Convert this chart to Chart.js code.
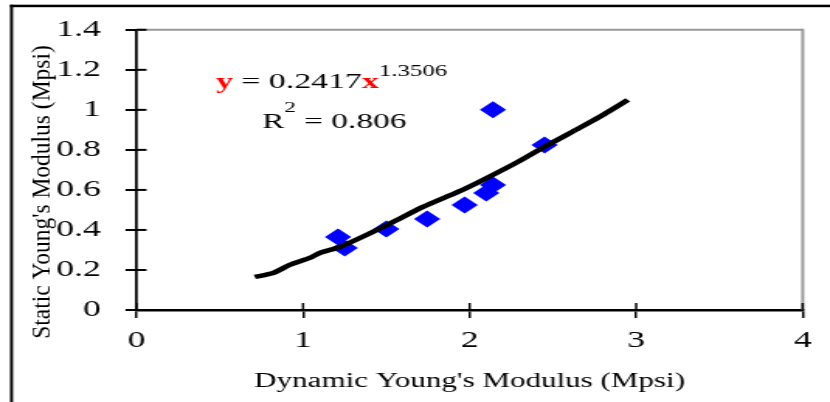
<!DOCTYPE html>
<html>
<head>
<meta charset="utf-8">
<script src="https://cdn.jsdelivr.net/npm/chart.js@4"></script>
<style>
  html, body { margin: 0; padding: 0; background: #fff; overflow: hidden; }
  #wrap { width: 830px; height: 402px; overflow: hidden; }
  #chart { display: block; transform-origin: 0 0; }
</style>
</head>
<body>
<div id="wrap"><canvas id="chart"></canvas></div>
<script>
// measured points (Mpsi)
const dynamicModulus = [1.21, 1.25, 1.50, 1.745, 1.97, 2.10, 2.14, 2.14, 2.45];
const staticModulus  = [0.365, 0.31, 0.405, 0.455, 0.525, 0.585, 0.625, 1.00, 0.825];

// power-law trend line as drawn in the figure
const trendX = [0.71, 0.82, 0.92, 1.04, 1.10, 1.22, 1.38, 1.54, 1.72, 1.93, 2.08, 2.29, 2.47, 2.66, 2.78, 2.95];
const trendY = [0.165, 0.185, 0.225, 0.26, 0.285, 0.315, 0.375, 0.44, 0.515, 0.59, 0.65, 0.74, 0.825, 0.91, 0.965, 1.05];

const xTickLabels = ['0', '1', '2', '3', '4'];
const yTickLabels = ['0', '0.2', '0.4', '0.6', '0.8', '1', '1.2', '1.4'];

const FONT = 'Liberation Serif';

// the original figure is stretched sideways; draw narrow and scale the canvas
const SX = 1.55;
const W = Math.round(830 / SX);
const H = 402;
const K = 830 / W;
const sx = (px) => px / K;

const canvas = document.getElementById('chart');
canvas.width = W;
canvas.height = H;
canvas.style.width = W + 'px';
canvas.style.height = H + 'px';
canvas.style.transform = 'scaleX(' + K + ')';

const framePlugin = {
  id: 'frame',
  beforeDatasetsDraw(chart) {
    const { ctx, chartArea: a } = chart;
    ctx.save();
    ctx.strokeStyle = '#999';
    ctx.lineWidth = 2;
    ctx.beginPath();
    ctx.moveTo(a.left, a.top);
    ctx.lineTo(a.right, a.top);
    ctx.stroke();
    ctx.lineWidth = 3 / K;
    ctx.beginPath();
    ctx.moveTo(a.right, a.top - 1);
    ctx.lineTo(a.right, a.bottom);
    ctx.stroke();
    ctx.restore();
  },
  afterDraw(chart) {
    const { ctx, chartArea: a, scales: { x, y } } = chart;
    ctx.save();
    // inner half of the cross ticks
    ctx.strokeStyle = '#000';
    ctx.lineWidth = 2.3 / K;
    x.ticks.forEach(t => {
      const px = x.getPixelForValue(t.value);
      ctx.beginPath();
      ctx.moveTo(px, a.bottom);
      ctx.lineTo(px, a.bottom - 7);
      ctx.stroke();
    });
    ctx.lineWidth = 2;
    y.ticks.forEach(t => {
      const py = y.getPixelForValue(t.value);
      ctx.beginPath();
      ctx.moveTo(a.left, py);
      ctx.lineTo(a.left + sx(10), py);
      ctx.stroke();
    });

    // outer black frame (top and left)
    ctx.fillStyle = '#000';
    ctx.fillRect(sx(10), 4.7, W, 2.5);
    ctx.fillRect(sx(10), 4.7, sx(3), H);

    // y axis title
    ctx.save();
    ctx.translate(sx(42), 192);
    ctx.scale(1.15 / K, 1);
    ctx.rotate(-Math.PI / 2);
    ctx.font = '23.5px ' + FONT;
    ctx.fillStyle = '#000';
    ctx.textAlign = 'center';
    ctx.textBaseline = 'middle';
    ctx.fillText("Static Young's Modulus (Mpsi)", 0, 0);
    ctx.restore();

    // regression equation
    ctx.textAlign = 'left';
    ctx.textBaseline = 'alphabetic';
    let cx = sx(216);
    let base = 88;
    const piece = (text, font, color, dy) => {
      ctx.font = font;
      ctx.fillStyle = color;
      ctx.fillText(text, cx, base + dy);
      cx += ctx.measureText(text).width;
    };
    piece('y', 'bold 21.8px ' + FONT, '#ff0000', 0);
    piece(' = 0.2417', '21.8px ' + FONT, '#000', 0);
    piece('x', 'bold 21.8px ' + FONT, '#ff0000', 0);
    piece('1.3506', '16px ' + FONT, '#000', -12);

    cx = sx(262);
    base = 128;
    piece('R', '21.5px ' + FONT, '#000', 0);
    piece('2', '15px ' + FONT, '#000', -16);
    piece(' = 0.806', '21.5px ' + FONT, '#000', 0);
    ctx.restore();
  }
};

new Chart(canvas, {
  type: 'scatter',
  data: {
    datasets: [
      {
        label: 'Power trend',
        data: trendX.map((v, i) => ({ x: v, y: trendY[i] })),
        showLine: true,
        borderColor: '#000',
        borderWidth: 4.5,
        pointRadius: 0,
        tension: 0.2,
        fill: false,
      },
      {
        label: 'Data',
        data: dynamicModulus.map((v, i) => ({ x: v, y: staticModulus[i] })),
        pointStyle: 'rectRot',
        pointRadius: 8.5,
        pointHoverRadius: 8.5,
        backgroundColor: '#0000ff',
        borderColor: '#0000ff',
        borderWidth: 0,
      },
    ],
  },
  options: {
    responsive: false,
    animation: false,
    devicePixelRatio: 1,
    layout: { padding: { top: 29.5, right: W - sx(802.7), left: 0, bottom: 0 } },
    plugins: {
      legend: { display: false },
      tooltip: { enabled: false },
    },
    scales: {
      x: {
        type: 'linear',
        min: 0,
        max: 4,
        ticks: {
          stepSize: 1,
          color: '#000',
          font: { family: FONT, size: 23 },
          padding: 9,
          maxRotation: 0,
          callback: (v, i) => xTickLabels[i],
        },
        grid: { drawOnChartArea: false, color: '#000', lineWidth: 2.3 / K, tickLength: 8 },
        border: { color: '#000', width: 2.5 },
        title: {
          display: true,
          text: "Dynamic Young's Modulus (Mpsi)",
          color: '#000',
          font: { family: FONT, size: 20 },
          padding: { top: 0, bottom: 8 },
        },
        afterFit: (s) => { s.height = 92; },
      },
      y: {
        min: 0,
        max: 1.4,
        ticks: {
          stepSize: 0.2,
          color: '#000',
          font: { family: FONT, size: 23 },
          padding: 16,
          callback: (v, i) => yTickLabels[i],
        },
        grid: { drawOnChartArea: false, color: '#000', lineWidth: 2, tickLength: sx(11) },
        border: { color: '#000', width: 2.7 / K },
        afterFit: (s) => { s.width = sx(136.5); },
      },
    },
  },
  plugins: [framePlugin],
});
</script>
</body>
</html>
